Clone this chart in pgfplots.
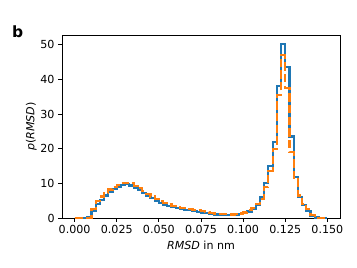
\documentclass[border=0pt]{standalone}
\usepackage{pgfplots}
\usepackage{pgfplotstable}
\pgfplotsset{compat=1.18}
\usepackage{fontspec}
\setmainfont{DejaVu Sans}
\definecolor{tabblue}{HTML}{1F77B4}
\definecolor{taborange}{HTML}{FF7F0E}
\pgfplotstableread{
x y
0.0000 0
0.0025 0
0.0050 0
0.0075 0.4
0.0100 2.0
0.0125 4.0
0.0150 5.3
0.0175 6.5
0.0200 7.4
0.0225 8.3
0.0250 9.0
0.0275 9.5
0.0300 9.7
0.0325 9.4
0.0350 8.8
0.0375 8.1
0.0400 7.3
0.0425 6.5
0.0450 5.8
0.0475 5.0
0.0500 4.4
0.0525 3.9
0.0550 3.5
0.0575 3.2
0.0600 2.9
0.0625 2.6
0.0650 2.4
0.0675 2.2
0.0700 2.0
0.0725 1.8
0.0750 1.6
0.0775 1.4
0.0800 1.2
0.0825 1.0
0.0850 0.9
0.0875 0.8
0.0900 0.8
0.0925 0.8
0.0950 0.9
0.0975 1.1
0.1000 1.4
0.1025 1.9
0.1050 2.6
0.1075 3.8
0.1100 6.0
0.1125 10.0
0.1150 15.0
0.1175 22.0
0.1200 38.0
0.1225 50.3
0.1250 43.5
0.1275 23.5
0.1300 11.8
0.1325 6.0
0.1350 3.8
0.1375 2.0
0.1400 0.7
0.1425 0.15
0.1450 0.03
0.1475 0
0.1500 0
}\blueT
\pgfplotstableread{
x y
0.0000 0
0.0025 0
0.0050 0
0.0075 0.1
0.0100 2.5
0.0125 4.8
0.0150 6.2
0.0175 7.3
0.0200 8.2
0.0225 9.0
0.0250 9.6
0.0275 10.1
0.0300 10.2
0.0325 10.0
0.0350 9.3
0.0375 8.6
0.0400 7.8
0.0425 7.0
0.0450 6.2
0.0475 5.4
0.0500 4.8
0.0525 4.3
0.0550 3.9
0.0575 3.5
0.0600 3.2
0.0625 3.0
0.0650 2.8
0.0675 2.6
0.0700 2.4
0.0725 2.2
0.0750 2.0
0.0775 1.7
0.0800 1.5
0.0825 1.3
0.0850 1.2
0.0875 1.1
0.0900 1.0
0.0925 1.0
0.0950 1.1
0.0975 1.3
0.1000 1.6
0.1025 2.2
0.1050 2.9
0.1075 4.0
0.1100 5.5
0.1125 9.0
0.1150 13.5
0.1175 20.0
0.1200 35.5
0.1225 47.0
0.1250 37.5
0.1275 19.0
0.1300 11.5
0.1325 6.5
0.1350 4.0
0.1375 2.5
0.1400 0.8
0.1425 0.1
0.1450 0
0.1475 0
0.1500 0
}\orangeT
\begin{document}
\begin{tikzpicture}
\useasboundingbox (-62pt,-50pt) rectangle (295pt,218pt);
\begin{axis}[
  at={(0,0)}, anchor=south west,
  scale only axis,
  width=278pt, height=183pt,
  xmin=-0.0075, xmax=0.1575,
  ymin=0, ymax=52.8,
  xtick={0,0.025,0.05,0.075,0.1,0.125,0.15},
  ytick={0,10,20,30,40,50},
  xticklabel style={/pgf/number format/fixed, /pgf/number format/fixed zerofill, /pgf/number format/precision=3},
  scaled x ticks=false,
  /pgf/number format/assume math mode=true,
  tick align=outside,
  major tick length=3.9pt,
  every tick/.style={black, line width=0.9pt},
  axis line style={line width=0.9pt},
  xtick pos=bottom, ytick pos=left,
  tick label style={font=\fontsize{11.1}{13}\selectfont},
  label style={font=\fontsize{11.1}{13}\selectfont},
  xlabel={\textit{RMSD} in nm},
  ylabel={\textit{p}(\textit{RMSD})},
  ylabel style={yshift=-3pt},
  clip=false,
]
\addplot[const plot, tabblue, line width=2.2pt, line join=miter] table[x=x,y=y] {\blueT};
\addplot[const plot, taborange, line width=2.2pt, dash pattern=on 8.2pt off 3.5pt] table[x=x,y=y] {\orangeT};
\end{axis}
\node[anchor=base west, inner sep=0pt, font=\fontsize{15.5}{17}\selectfont\bfseries] at (-50pt,180pt) {b};
\end{tikzpicture}
\end{document}
